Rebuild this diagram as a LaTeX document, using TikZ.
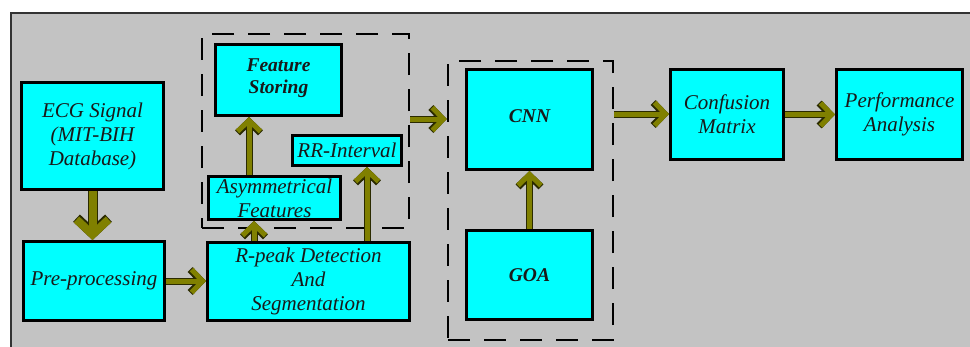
\documentclass[tikz,border=0pt]{standalone}
\usepackage{fontspec}
\setmainfont{Liberation Serif}
\usetikzlibrary{arrows.meta}
\definecolor{bg}{HTML}{C3C3C3}
\definecolor{boxc}{HTML}{00FFFF}
\definecolor{arr}{HTML}{808000}
\definecolor{arrline}{HTML}{2A2A00}
\definecolor{frame}{HTML}{333333}
\tikzset{
  box/.style={draw=black, line width=3pt, fill=boxc, inner sep=0pt, align=center,
    text=black!90, font=\fontsize{21}{24}\selectfont\itshape},
  bbox/.style={box, font=\fontsize{19.5}{22}\selectfont\bfseries\itshape},
  dbox/.style={draw=black, line width=2.5pt, dash pattern=on 22pt off 14pt, inner sep=0pt},
  flow/.style={draw=arr, line width=5pt,
    -{Straight Barb[length=11pt 0 0, width=23pt 0 0]},
    preaction={draw=arrline, line width=7pt, -{Straight Barb[length=11pt 0 0, width=23pt 0 0]}}},
  flowbig/.style={draw=arr, line width=8pt,
    -{Straight Barb[length=15pt 0 0, width=32pt 0 0]},
    preaction={draw=arrline, line width=10pt, -{Straight Barb[length=15pt 0 0, width=32pt 0 0]}}}
}
\begin{document}
\begin{tikzpicture}[x=1pt,y=-1pt]
\useasboundingbox (0,0) rectangle (970,346);
\fill[bg] (11,13) rectangle (980,356);
\draw[frame, line width=2pt] (11,356) -- (11,13) -- (980,13);

% dashed groups
\node[dbox, minimum width=207pt, minimum height=194pt] (db1) at (305.5,131) {};
\node[dbox, minimum width=165pt, minimum height=279pt] (db2) at (530.5,200.5) {};

% boxes
\node[box, minimum width=142pt, minimum height=107pt] (ecg) at (92.5,136) {ECG Signal\\(MIT-BIH\\Database)};
\node[box, minimum width=141pt, minimum height=79pt] (pre) at (94,281) {Pre-processing};
\node[box, minimum width=202pt, minimum height=78pt] (rpeak) at (308.5,281.5) {R-peak Detection\\And\\Segmentation};
\node[box, minimum width=132pt, minimum height=43pt] (asym) at (274.5,198) {Asymmetrical\\Features};
\node[bbox, minimum width=126pt, minimum height=71pt] (fs) at (278.5,80) {Feature\\Storing\\[-14pt]};
\node[box, minimum width=109pt, minimum height=30pt] (rr) at (347,150.5) {RR-Interval};
\node[bbox, minimum width=126pt, minimum height=100pt] (cnn) at (529.5,119.5) {CNN\\[-15pt]};
\node[bbox, minimum width=126pt, minimum height=89pt] (goa) at (529.5,275) {GOA};
\node[box, minimum width=113pt, minimum height=90pt] (cm) at (727,114.5) {Confusion\\Matrix};
\node[box, minimum width=126pt, minimum height=90pt] (pa) at (899.5,114.5) {Performance\\Analysis};

% connectors
\coordinate (a1) at (254,0);
\coordinate (a2) at (249,0);
\coordinate (a3) at (367,0);
\coordinate (a4) at (0,119);
\coordinate (a5) at (0,114);
\draw[flowbig] (ecg.south) -- (ecg.south |- pre.north);
\draw[flow] (pre.east) -- (pre.east -| rpeak.west);
\draw[flow] (a1 |- rpeak.north) -- (a1 |- asym.south);
\draw[flow] (a2 |- asym.north) -- (a2 |- fs.south);
\draw[flow] (a3 |- rpeak.north) -- (a3 |- rr.south);
\draw[flow] (a4 -| db1.east) -- (a4 -| db2.west);
\draw[flow] (a5 -| db2.east) -- (a5 -| cm.west);
\draw[flow] (cm.east) -- (pa.west);
\draw[flow] (goa.north) -- (cnn.south);
\end{tikzpicture}
\end{document}
